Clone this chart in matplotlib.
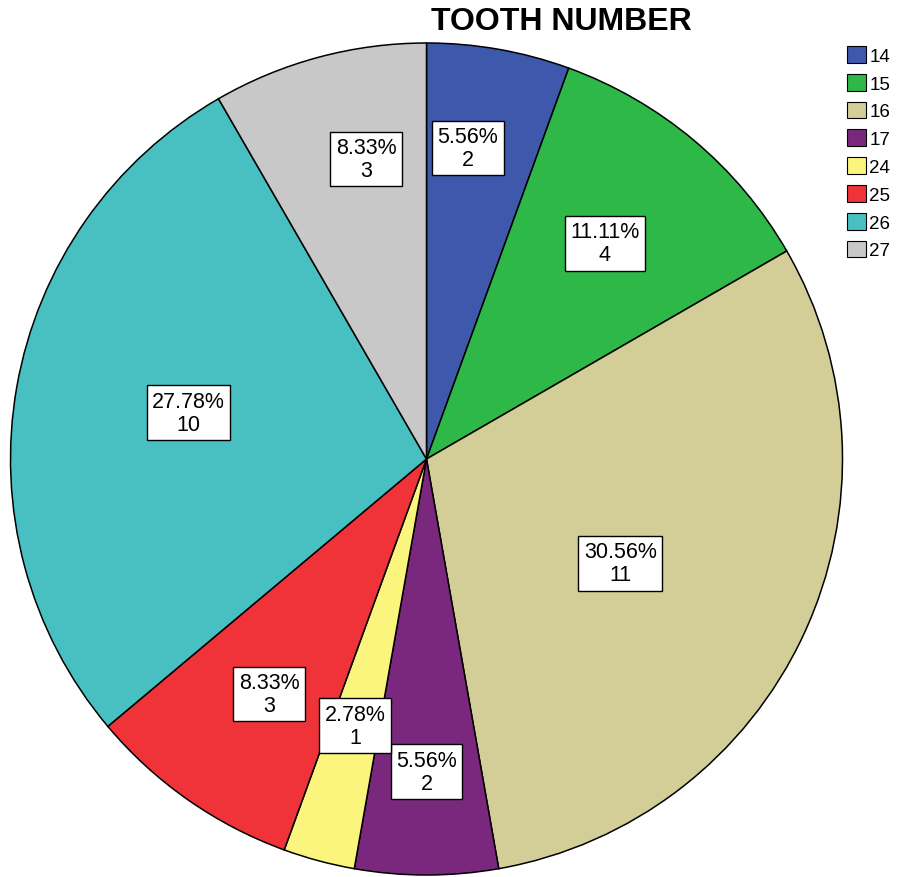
import numpy as np
import matplotlib
matplotlib.use("Agg")
import matplotlib.pyplot as plt
from matplotlib.patches import Patch

plt.rcParams['font.family'] = ['Liberation Sans', 'DejaVu Sans']

teeth = ['14', '15', '16', '17', '24', '25', '26', '27']
counts = [2, 4, 11, 2, 1, 3, 10, 3]
colors = ['#3E58AC', '#2EB848', '#D3CE97', '#7A287D', '#FBF57E', '#EF3338', '#48C0C1', '#C8C8C8']
# value-box placement: radius fraction and position across the slice (0 = start, 1 = end)
label_r = [0.754, 0.673, 0.529, 0.752, 0.664, 0.68, 0.583, 0.736]
label_t = [0.38, 0.49, 0.53, 0.5, 0.5, 0.46, 0.51, 0.62]

W, H = 898, 878
fig = plt.figure(figsize=(W / 100, H / 100), dpi=100)
fig.patch.set_facecolor('white')

cx, cy, R = 426.5, 460, 416
ax = fig.add_axes([(cx - R) / W, (H - cy - R) / H, 2 * R / W, 2 * R / H])

wedges, _ = ax.pie(counts, colors=colors, startangle=90, counterclock=False,
                   radius=1, wedgeprops=dict(edgecolor='black', linewidth=1.1))
ax.set_xlim(-1, 1)
ax.set_ylim(-1, 1)
ax.set_aspect('equal')
ax.axis('off')

total = sum(counts)
for w, c, r, t in zip(wedges, counts, label_r, label_t):
    # wedges are drawn clockwise, so theta2 is the slice's starting edge
    ang = np.deg2rad(w.theta2 + t * (w.theta1 - w.theta2))
    pct = 100 * c / total
    ax.text(r * np.cos(ang), r * np.sin(ang), f"{pct:.2f}%\n{c}",
            ha='center', va='center', fontsize=15.5, linespacing=1.12,
            bbox=dict(boxstyle='square,pad=0.25', facecolor='white',
                      edgecolor='black', linewidth=1.0))

fig.text(561 / W, 1 - 22 / H, 'TOOTH NUMBER', ha='center', va='center',
         fontsize=23, fontweight='bold')

handles = [Patch(facecolor=col, edgecolor='black', linewidth=0.8) for col in colors]
fig.legend(handles, teeth, loc='upper left', bbox_to_anchor=(847 / W, 1 - 47 / H),
           frameon=False, fontsize=13.5, handlelength=1.0, handleheight=1.0,
           handletextpad=0.2, labelspacing=0.48, borderpad=0, borderaxespad=0)

fig.savefig('out.png', dpi=100, facecolor='white')
